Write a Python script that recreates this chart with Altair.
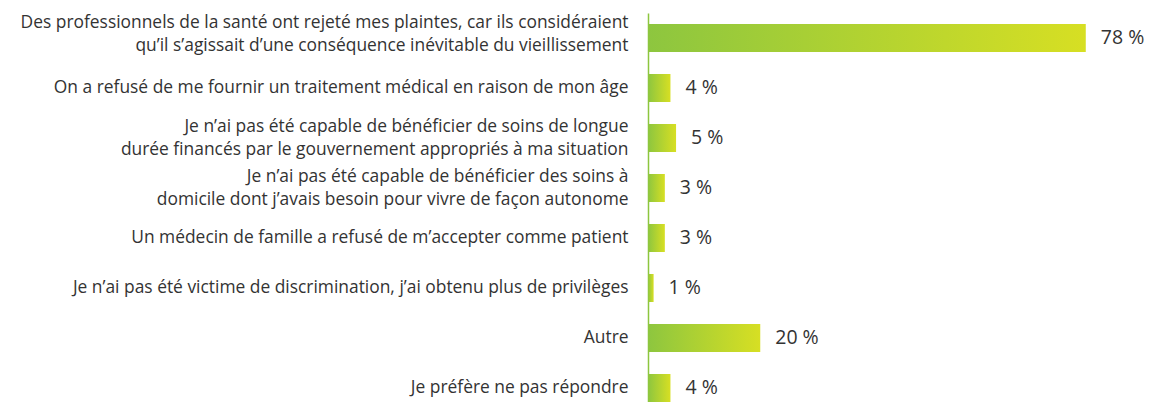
import altair as alt
import pandas as pd

categories = [
    "Des professionnels de la santé ont rejeté mes plaintes, car ils considéraient|qu’il s’agissait d’une conséquence inévitable du vieillissement",
    "On a refusé de me fournir un traitement médical en raison de mon âge",
    "Je n’ai pas été capable de bénéficier de soins de longue |durée financés par le gouvernement appropriés à ma situation",
    "Je n’ai pas été capable de bénéficier des soins à |domicile dont j’avais besoin pour vivre de façon autonome",
    "Un médecin de famille a refusé de m’accepter comme patient",
    "Je n’ai pas été victime de discrimination, j’ai obtenu plus de privilèges",
    "Autre",
    "Je préfère ne pas répondre",
]
values = [78, 4, 5, 3, 3, 1, 20, 4]
value_labels = ["78 %", "4 %", "5 %", "3 %", "3 %", "1 %", "20 %", "4 %"]

df = pd.DataFrame({"cat": categories, "val": values, "lab": value_labels})

FONT = "Open Sans"
TEXT = "#333333"

y_enc = alt.Y(
    "cat:N",
    sort=categories,
    scale=alt.Scale(paddingInner=0.44, paddingOuter=0.22),
    axis=alt.Axis(
        title=None,
        ticks=False,
        labelExpr="split(datum.label, '|')",
        labelFontSize=17.4,
        labelFont=FONT,
        labelColor=TEXT,
        labelPadding=20,
        labelLimit=800,
        labelLineHeight=23,
        labelOffset={
            "condition": [
                {"test": "indexof(datum.value, 'Des professionnels') == 0", "value": -15},
                {"test": "indexof(datum.value, '|') >= 0", "value": -11},
            ],
            "value": 0,
        },
        domainColor="#8dc63f",
        domainWidth=1.5,
        grid=False,
    ),
)
x_enc = alt.X("val:Q", scale=alt.Scale(domain=[0, 80]), axis=None)

bars = alt.Chart(df).mark_bar(
    color=alt.Gradient(
        gradient="linear",
        x1=0, x2=1, y1=0, y2=0,
        stops=[alt.GradientStop(color="#8dc63f", offset=0),
               alt.GradientStop(color="#d7df23", offset=1)],
    )
).encode(x=x_enc, y=y_enc)

texts = alt.Chart(df).mark_text(
    align="left", baseline="middle", dx=15, fontSize=19.5, font=FONT, color=TEXT
).encode(x=x_enc, y=alt.Y("cat:N", sort=categories), text="lab:N")

chart = (
    alt.layer(bars, texts)
    .properties(
        width=449,
        height=400,
        autosize=alt.AutoSizeParams(type="none"),
        padding={"left": 640, "top": 5, "right": 51, "bottom": 0},
    )
    .configure_view(stroke=None)
)

chart.save("out.html", embed_options={"renderer": "svg", "actions": False})
